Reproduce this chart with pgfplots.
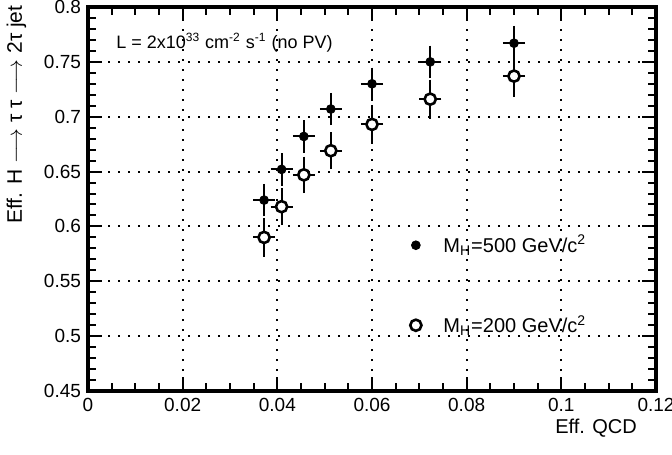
\documentclass[border=0pt]{standalone}
\usepackage{pgfplots}
\pgfplotsset{compat=1.18}
\usepackage{fontspec}
\setmainfont{Liberation Sans}
\begin{document}
\begin{tikzpicture}
\begin{axis}[
  at={(0,0)}, anchor=south west,
  scale only axis, width=284pt, height=192pt,
  xmin=0, xmax=0.12, ymin=0.45, ymax=0.8,
  xtick={0,0.02,...,0.121}, ytick={0.45,0.5,...,0.81},
  minor x tick num=3, minor y tick num=4,
  tick align=inside, tick pos=both,
  major tick length=7pt, minor tick length=4pt,
  every tick/.style={black, line width=1pt},
  axis line style={line width=1.6pt},
  grid=major,
  major grid style={black, line width=1pt, dash pattern=on 1pt off 4pt},
  /pgf/number format/assume math mode=true,
  /pgf/number format/.cd, fixed, precision=2, /pgfplots/.cd,
  tick label style={font=\fontsize{9.5}{11}\selectfont},
  xlabel={Eff. QCD},
  xlabel style={font=\fontsize{10}{12}\selectfont, inner sep=0pt, at={(axis description cs:0.967,-0.072)}, anchor=north east},
  ylabel={Eff. H $\longrightarrow$ τ τ $\longrightarrow$ 2τ jet},
  ylabel style={font=\fontsize{10.5}{12}\selectfont, inner sep=0pt, at={(axis description cs:-0.108,1.005)}, anchor=south east},
  legend style={draw=none, fill=none, font=\fontsize{10}{12}\selectfont, row sep=26pt, column sep=9pt,
    at={(axis cs:0.0680,0.596)}, anchor=north west, inner sep=0pt},
  legend cell align=left,
  legend image code/.code={\draw[#1] plot coordinates {(0.15cm,0cm)};},
]
\addplot+[black, only marks, mark=*, mark size=2.2pt, mark options={black, fill=black},
  error bars/.cd, x dir=both, x explicit, y dir=both, y explicit,
  error bar style={line width=1pt, black},
  error mark options={line width=1pt, mark size=1.5pt, black}]
  coordinates {
  (0.0372,0.624) +- (0.0017,0.012)
  (0.0409,0.652) +- (0.0017,0.012)
  (0.0456,0.682) +- (0.0017,0.012)
  (0.0513,0.707) +- (0.0017,0.012)
  (0.0600,0.730) +- (0.0017,0.012)
  (0.0723,0.750) +- (0.0017,0.012)
  (0.0900,0.767) +- (0.0017,0.013)
  };
\addlegendentry{M\textsubscript{H}=500 GeV/c\textsuperscript{2}}
\addplot+[black, only marks, mark=*, mark size=2.8pt, mark options={black, fill=white, line width=1.3pt},
  error bars/.cd, x dir=both, x explicit, y dir=both, y explicit,
  error bar style={line width=1pt, black},
  error mark options={line width=1pt, mark size=1.5pt, black}]
  coordinates {
  (0.0372,0.590) +- (0.0017,0.015)
  (0.0409,0.618) +- (0.0017,0.014)
  (0.0456,0.647) +- (0.0017,0.014)
  (0.0513,0.669) +- (0.0017,0.014)
  (0.0600,0.693) +- (0.0017,0.015)
  (0.0723,0.716) +- (0.0017,0.015)
  (0.0900,0.737) +- (0.0017,0.016)
  };
\addlegendentry{M\textsubscript{H}=200 GeV/c\textsuperscript{2}}
\node[anchor=base west, font=\fontsize{9}{11}\selectfont, inner sep=0pt] at (axis cs:0.0059,0.7618)
  {L = 2x10\textsuperscript{33} cm\textsuperscript{-2} s\textsuperscript{-1} (no PV)};
\end{axis}
\pgfresetboundingbox
\useasboundingbox (-44pt,-31.5pt) rectangle (292pt,195.5pt);
\end{tikzpicture}
\end{document}
